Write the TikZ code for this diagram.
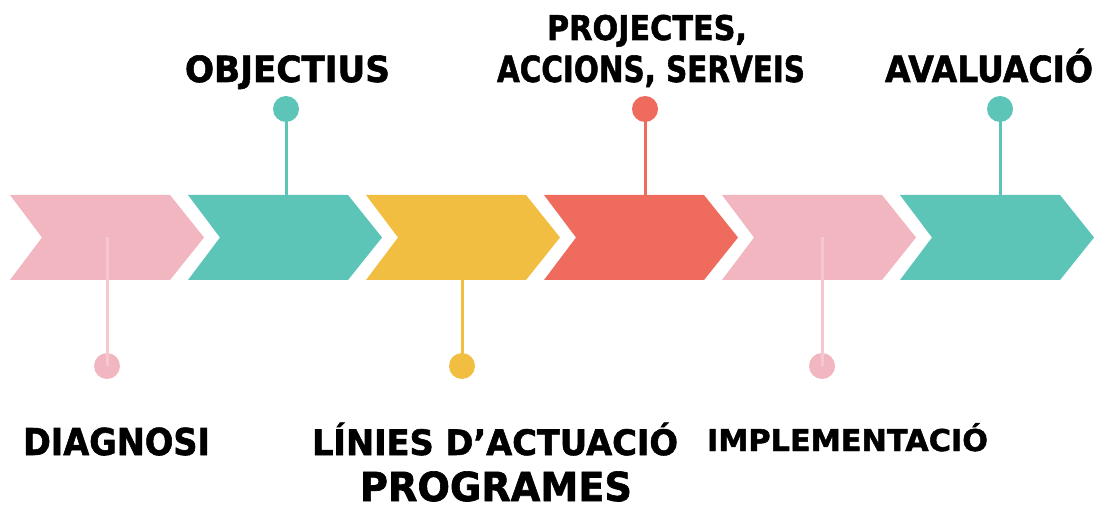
\documentclass[tikz,border=0pt]{standalone}
\usepackage{fontspec}
\usepackage{graphicx}
\setmainfont{DejaVu Sans}
\newfontfamily\labfont{DejaVu Sans Bold}[FakeBold=1.6]
\definecolor{cpink}{HTML}{F2B6C1}
\definecolor{cteal}{HTML}{5CC5B8}
\definecolor{cyellow}{HTML}{F1BE42}
\definecolor{cred}{HTML}{EE6B5E}
\newcommand{\fitlab}[3]{\resizebox{#1pt}{\height}{\fontsize{#2}{#2}\labfont #3}}
\tikzset{
  chev/.style={fill=#1, draw=none},
  dot/.style={circle, fill=#1, draw=none, minimum size=26pt, inner sep=0pt},
  stem/.style={draw=#1, line width=3pt},
  lab/.style={anchor=base, inner sep=0pt, text=black}
}
\begin{document}
\begin{tikzpicture}[x=1pt,y=-1pt]
\useasboundingbox (0,0) rectangle (1100,510);
% chevrons
\foreach \i/\c in {0/cpink,1/cteal,2/cyellow,3/cred,4/cpink,5/cteal}{
  \pgfmathsetmacro{\xo}{10+178*\i}
  \fill[chev=\c] (\xo,195) -- (\xo+160,195) -- (\xo+194,237.5) -- (\xo+160,280) -- (\xo,280) -- (\xo+32,237.5) -- cycle;
  \coordinate (c\i) at (\xo+97,237.5);
  \coordinate (t\i) at (\xo+97,195);
  \coordinate (b\i) at (\xo+97,280);
}
% dots
\node[dot=cpink] (d0) at (107,366) {};
\node[dot=cteal] (d1) at (286,109) {};
\node[dot=cyellow] (d2) at (462,366) {};
\node[dot=cred] (d3) at (645,109) {};
\node[dot=cpink] (d4) at (822,366) {};
\node[dot=cteal] (d5) at (1000,109) {};
% stems
\draw[stem=cpink!75!white] (d0.center) -- (d0.center |- c0);
\draw[stem=cteal] (d1.center) -- (d1.center |- t1);
\draw[stem=cyellow] (d2.center) -- (d2.center |- b2);
\draw[stem=cred] (d3.center) -- (d3.center |- t3);
\draw[stem=cpink!75!white] (d4.center) -- (d4.center |- c4);
\draw[stem=cteal] (d5.center) -- (d5.center |- t5);
% labels
\node[lab] (lobj) at (287.5,82) {\fitlab{205}{36}{OBJECTIUS}};
\node[lab] (lproj1) at (647,40) {\fitlab{200}{34}{PROJECTES,}};
\node[lab] (lproj2) at (651,82) {\fitlab{308}{36}{ACCIONS, SERVEIS}};
\node[lab] (laval) at (989,82) {\fitlab{208}{36}{AVALUACIÓ}};
\node[lab] (ldiag) at (116.5,455) {\fitlab{187}{37}{DIAGNOSI}};
\node[lab] (llin) at (495,455) {\fitlab{366}{35}{LÍNIES D’ACTUACIÓ}};
\node[lab] (lprog) at (496,501) {\fitlab{272}{40}{PROGRAMES}};
\node[lab] (limp) at (847.5,451) {\fitlab{281}{30}{IMPLEMENTACIÓ}};
\end{tikzpicture}
\end{document}
